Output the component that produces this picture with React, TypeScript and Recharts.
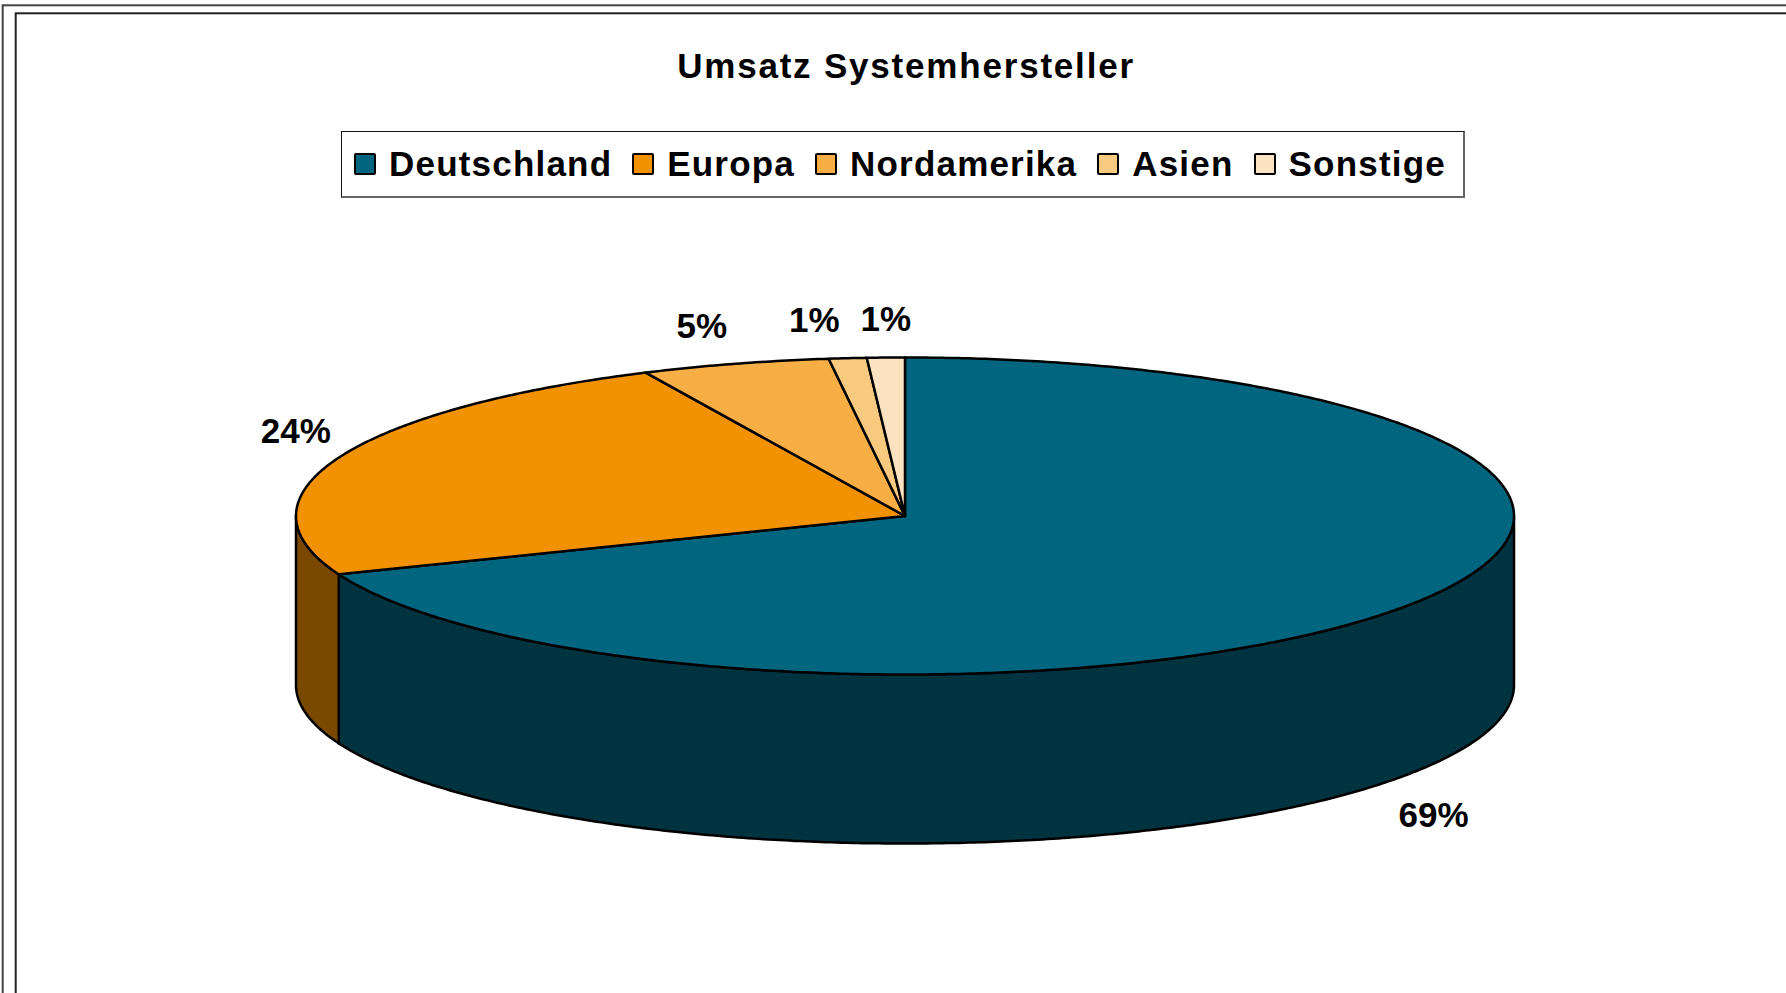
import React from 'react';
import { PieChart, Pie, Legend } from 'recharts';

// ---- data ----
const chartTitle = 'Umsatz Systemhersteller';
const categories = ['Deutschland', 'Europa', 'Nordamerika', 'Asien', 'Sonstige'];
const shares = [69, 24, 5, 1, 1];
const topColors = ['#006680', '#F39200', '#F6AE45', '#F8CA80', '#FBE3C1'];
const sideColors = ['#003340', '#7A4900', '#7B5723', '#7C6540', '#7E7261'];

const data = categories.map((name, i) => ({ name, value: shares[i] }));

// ---- layout / style ----
const W = 1786;
const H = 993;
const CX = 905;
const CY = 516;
const RX = 609;
const FLAT = 158.5 / 609;
const DEPTH = 169;
const EDGE = 2.5;
const FONT = '"Liberation Sans", Arial, Helvetica, sans-serif';
const RAD = Math.PI / 180;

type P = [number, number];

function pt(cx: number, cy: number, r: number, a: number, drop = 0): P {
  return [cx + r * Math.cos(a * RAD), cy - r * FLAT * Math.sin(a * RAD) + drop];
}

function arcPts(cx: number, cy: number, r: number, a0: number, a1: number, drop: number): P[] {
  const n = Math.max(2, Math.ceil(Math.abs(a1 - a0) / 0.5));
  const out: P[] = [];
  for (let i = 0; i <= n; i++) {
    const a = a0 + ((a1 - a0) * i) / n;
    out.push(pt(cx, cy, r, a, drop));
  }
  return out;
}

const toPath = (pts: P[]) =>
  pts.map((p, i) => `${i ? 'L' : 'M'}${p[0].toFixed(2)},${p[1].toFixed(2)}`).join('') + 'Z';

// side walls (front-facing part of each slice)
const renderWall = (props: any) => {
  const { cx, cy, outerRadius, startAngle, endAngle, index } = props;
  const lo = Math.min(startAngle, endAngle);
  const hi = Math.max(startAngle, endAngle);
  const paths: string[] = [];
  for (let n = -2; n <= 1; n++) {
    const s = Math.max(lo, -180 + 360 * n);
    const e = Math.min(hi, 360 * n);
    if (e - s > 0.01) {
      const top = arcPts(cx, cy, outerRadius, s, e, 0);
      const bot = arcPts(cx, cy, outerRadius, e, s, DEPTH);
      paths.push(toPath([...top, ...bot]));
    }
  }
  return (
    <g>
      {paths.map((d, j) => (
        <path key={j} d={d} fill={sideColors[index]} stroke="#000" strokeWidth={EDGE} strokeLinejoin="round" />
      ))}
    </g>
  );
};

// top faces
const renderTop = (props: any) => {
  const { cx, cy, outerRadius, startAngle, endAngle, index } = props;
  const pts: P[] = [[cx, cy], ...arcPts(cx, cy, outerRadius, startAngle, endAngle, 0)];
  return <path d={toPath(pts)} fill={topColors[index]} stroke="#000" strokeWidth={EDGE} strokeLinejoin="round" />;
};

// percentage labels
const renderValue = (props: any) => {
  const { cx, cy, outerRadius, midAngle, percent } = props;
  const c = Math.cos(midAngle * RAD);
  const s = Math.sin(midAngle * RAD);
  const front = s < 0;
  const [ex, ey] = pt(cx, cy, outerRadius, midAngle, front ? DEPTH : 0);
  let anchor: 'middle' | 'start' | 'end' = 'middle';
  let x = ex;
  if (front) {
    x = ex + 30 * c;
  } else if (c < -0.05) {
    anchor = 'end';
    x = ex - 8;
  } else if (c > 0.05) {
    anchor = 'start';
    x = ex + 8;
  }
  const y = front ? ey + 40 : ey - (20 + 19 * s);
  return (
    <text
      x={x}
      y={y}
      textAnchor={anchor}
      dominantBaseline="central"
      fontFamily={FONT}
      fontWeight="bold"
      fontSize={35}
      fill="#000"
      stroke="none"
    >
      {`${Math.round(percent * 100)}%`}
    </text>
  );
};

const renderLegend = () => (
  <div
    style={{
      boxSizing: 'border-box',
      width: 1124,
      height: 67,
      borderTop: '1px solid #111',
      borderLeft: '1px solid #111',
      borderRight: '2px solid #666',
      borderBottom: '2px solid #666',
      background: '#fff',
      display: 'flex',
      alignItems: 'center',
      paddingLeft: 12,
      fontFamily: FONT,
      fontWeight: 'bold',
      fontSize: 35,
      letterSpacing: 1.2,
      color: '#000',
      whiteSpace: 'nowrap',
    }}
  >
    {categories.map((c, i) => (
      <div key={c} style={{ display: 'flex', alignItems: 'center', marginRight: 20 }}>
        <span
          style={{
            display: 'inline-block',
            flex: 'none',
            width: 18,
            height: 18,
            border: '2px solid #000',
            borderRadius: 2,
            background: topColors[i],
            marginRight: 13,
          }}
        />
        <span style={{ lineHeight: 'normal' }}>{c}</span>
      </div>
    ))}
  </div>
);

export default function App() {
  return (
    <div style={{ position: 'absolute', left: 0, top: 0, width: W, height: H, background: '#fff', overflow: 'hidden' }}>
      <svg width={W} height={H} style={{ position: 'absolute', left: 0, top: 0 }}>
        <rect x={2.7} y={5.3} width={1900} height={1100} fill="none" stroke="#444" strokeWidth={2} />
        <rect x={15.7} y={13.3} width={1900} height={1100} fill="none" stroke="#222" strokeWidth={2} />
        <text
          x={906}
          y={78}
          textAnchor="middle"
          fontFamily={FONT}
          fontWeight="bold"
          fontSize={35}
          letterSpacing={1.8}
          fill="#000"
        >
          {chartTitle}
        </text>
      </svg>
      <div style={{ position: 'absolute', left: 0, top: 0 }}>
        <PieChart width={W} height={H} margin={{ top: 0, right: 0, bottom: 0, left: 0 }}>
          <Pie
            data={data}
            dataKey="value"
            nameKey="name"
            cx={CX}
            cy={CY}
            outerRadius={RX}
            startAngle={90}
            endAngle={-270}
            fill="transparent"
            stroke="none"
            label={renderWall}
            labelLine={false}
            legendType="none"
            isAnimationActive={false}
          />
          <Pie
            data={data}
            dataKey="value"
            nameKey="name"
            cx={CX}
            cy={CY}
            outerRadius={RX}
            startAngle={90}
            endAngle={-270}
            fill="transparent"
            stroke="none"
            label={renderTop}
            labelLine={false}
            legendType="none"
            isAnimationActive={false}
          />
          <Pie
            data={data}
            dataKey="value"
            nameKey="name"
            cx={CX}
            cy={CY}
            outerRadius={RX}
            startAngle={90}
            endAngle={-270}
            fill="transparent"
            stroke="none"
            label={renderValue}
            labelLine={false}
            isAnimationActive={false}
          />
          <Legend
            content={renderLegend}
            wrapperStyle={{ position: 'absolute', top: 131, left: 341, width: 1124, height: 67, bottom: 'auto' }}
          />
        </PieChart>
      </div>
    </div>
  );
}
